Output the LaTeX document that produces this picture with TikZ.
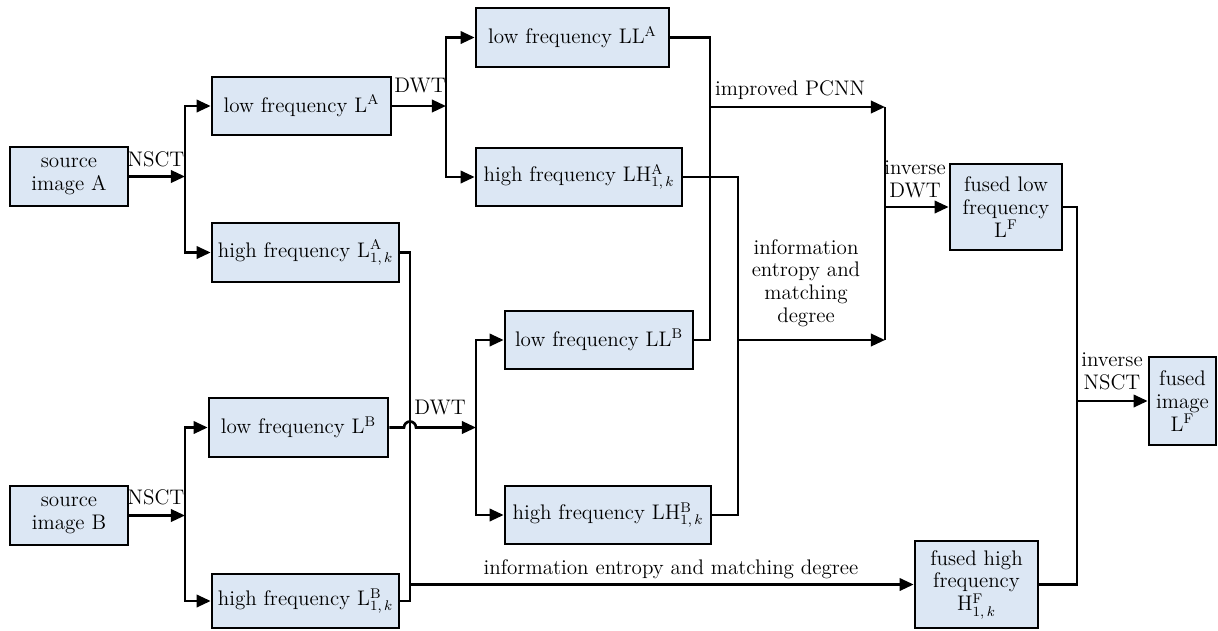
\documentclass[tikz,border=0pt]{standalone}
\usetikzlibrary{positioning}
\usetikzlibrary{arrows.meta}
\definecolor{boxfill}{RGB}{220,231,244}
\tikzset{
  block/.style={draw,line width=1.5pt,fill=boxfill,align=center,inner sep=1pt},
  boxsize/.style 2 args={minimum width=#1*0.02cm,minimum height=#2*0.02cm},
  link/.style={line width=1.5pt},
  feed/.style={line width=1.5pt,-{Triangle[length=8pt,width=7pt]}},
  tag/.style={align=center,inner sep=0pt}
}
\newcommand{\hik}[1]{$^{\mathrm{#1}}_{1,\,k}$}

\begin{document}
\begin{tikzpicture}[x=0.02cm,y=-0.02cm,font=\fontsize{12}{13}\selectfont]

  \useasboundingbox (0,0) rectangle (1218,630);

  % sources
  \node[block,boxsize={118}{59}] (srcA) at (69,176.5) {source\\image A};
  \node[block,boxsize={118}{59}] (srcB) at (69,515.5) {source\\image B};

  % NSCT bands
  \node[block,boxsize={179}{58}] (lowA) at (301.5,106) {low frequency L$^{\mathrm{A}}$};
  \node[block,boxsize={187}{59}] (highA) at (305.5,252.5) {high frequency L\hik{A}};
  \node[block,boxsize={179}{59}] (lowB) at (298.5,427.5) {low frequency L$^{\mathrm{B}}$};
  \node[block,boxsize={187}{54}] (highB) at (305.5,601) {high frequency L\hik{B}};

  % DWT bands
  \node[block,boxsize={193}{59}] (llA) at (572.5,37.5) {low frequency LL$^{\mathrm{A}}$};
  \node[block,boxsize={206}{58}] (lhA) at (579,177) {high frequency LH\hik{A}};
  \node[block,boxsize={188}{58}] (llB) at (599,340) {low frequency LL$^{\mathrm{B}}$};
  \node[block,boxsize={206}{58}] (lhB) at (608,515) {high frequency LH\hik{B}};

  % fused
  \node[block,boxsize={112}{86}] (fusedL) at (1006,207) {fused low\\frequency\\L$^{\mathrm{F}}$};
  \node[block,boxsize={123}{87}] (fusedH) at (976.5,584.5) {fused high\\frequency\\H$^{\mathrm{F}}_{1,\,k}$};
  \node[block,boxsize={67}{88}] (fusedI) at (1182.5,401) {fused\\image\\L$^{\mathrm{F}}$};

  % junctions
  \coordinate (splitA) at (185,176.5);
  \coordinate (splitB) at (185,515.5);
  \coordinate (dwtA) at (446,106);
  \coordinate (dwtB) at (476,427.5);
  \coordinate (pcnn) at (710,107);
  \coordinate (infoA) at (738,340);
  \coordinate (invA) at (885,107);
  \coordinate (invB) at (885,340);
  \coordinate (invD) at (885,207);
  \coordinate (hiJoin) at (410,584.5);
  \coordinate (nsctJoin) at (1077,401);

  % NSCT
  \draw[feed] (srcA) -- (splitA);
  \draw[feed] (splitA) |- (lowA);
  \draw[feed] (splitA) |- (highA);
  \draw[feed] (srcB) -- (splitB);
  \draw[feed] (splitB) |- (lowB);
  \draw[feed] (splitB) |- (highB);

  % DWT
  \draw[feed] (lowA) -- (dwtA);
  \draw[feed] (dwtA) |- (llA);
  \draw[feed] (dwtA) |- (lhA);
  \draw[feed] (lowB.east) -- (404,427.5) arc[start angle=180,end angle=0,radius=0.12cm] -- (dwtB);
  \draw[feed] (dwtB) |- (llB);
  \draw[feed] (dwtB) |- (lhB);

  % low frequency fusion
  \draw[link] (llA) -| (pcnn) |- (llB);
  \draw[feed] (pcnn) -- (invA);
  \draw[link] (lhA) -| (infoA) |- (lhB);
  \draw[feed] (infoA) -- (invB);
  \draw[link] (invA) -- (invB);
  \draw[feed] (invD) -- (fusedL);

  % high frequency fusion
  \draw[link] (highA) -| (hiJoin) |- (highB);
  \draw[feed] (hiJoin) -- (fusedH);

  % inverse NSCT
  \draw[link] (fusedL) -| (nsctJoin) |- (fusedH);
  \draw[feed] (nsctJoin) -- (fusedI);

  % labels
  \node[tag] (nsctA) at (156,159) {NSCT};
  \node[tag] (nsctB) at (156,497) {NSCT};
  \node[tag] (dwtLA) at (420,86) {DWT};
  \node[tag] (dwtLB) at (440,408) {DWT};
  \node[tag] (pcnnL) at (790,90) {improved PCNN};
  \node[tag] (infoL) at (806,283) {information\\entropy and\\matching\\degree};
  \node[tag] (invDL) at (915,179) {inverse\\DWT};
  \node[tag] (hiL) at (671,569) {information entropy and matching degree};
  \node[tag] (invNL) at (1112,371) {inverse\\NSCT};

\end{tikzpicture}
\end{document}
